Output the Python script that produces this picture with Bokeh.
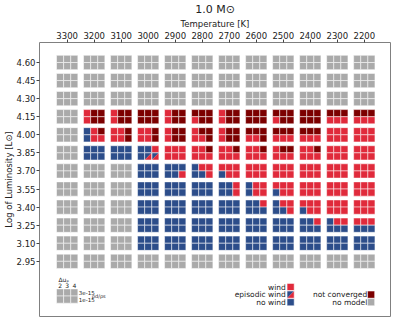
from bokeh.plotting import figure
from bokeh.models import Range1d, FixedTicker, PrintfTickFormatter
from bokeh.embed import file_html
from bokeh.resources import INLINE
from bokeh.core.properties import value

# ---------------- data ----------------
temperatures = [3300, 3200, 3100, 3000, 2900, 2800, 2700, 2600, 2500, 2400, 2300, 2200]
luminosities = [4.60, 4.45, 4.30, 4.15, 4.00, 3.85, 3.70, 3.55, 3.40, 3.25, 3.10, 2.95]
du_values = ["2", "3", "4"]
rho_labels = ["3e-15", "1e-15"]

# status per (T, L) cell: 6 letters = top row (rho 3e-15, du 2,3,4) then bottom row (rho 1e-15)
# W wind, E episodic wind, N no wind, C not converged, G no model
G6, N6, W6 = "GGGGGG", "NNNNNN", "WWWWWW"
status_460 = [G6] * 12
status_445 = [G6] * 12
status_430 = [G6] * 12
status_415 = [G6, "WCCWCC", "WCCWCC", "CCCCCC", "WCCWCC", "CCCWCC", "WCCWCC", "CCCCCC", "CCCWCC", "CCCCCC", "CCCWWW", "CCCWWW"]
status_400 = [G6, "NWCNWW", "WWCWWC", "WWCWWC", "WCCWCC", "WCCWWC", "WCCWCC", "CCCWWC", "CCCWWW", "CCCWWW", W6, W6]
status_385 = [G6, N6, N6, "NNWNEE", W6, "WWCWWW", "WWCWWW", "WWCWWW", "WCCWWW", "WWCWWW", W6, W6]
status_370 = [G6, G6, G6, N6, "NNNNNW", "NWWNNW", "WWWNWW", W6, W6, W6, W6, W6]
status_355 = [G6, G6, G6, N6, N6, N6, "NNWNNW", "NWWNWW", "WWWNWW", W6, W6, W6]
status_340 = [G6, G6, G6, N6, N6, N6, N6, "NNWNNN", "NWWNNW", "WWWNWW", W6, W6]
status_325 = [G6, G6, G6, N6, N6, N6, N6, N6, N6, "NNWNNN", "NWWNNN", "WWWNNN"]
status_310 = [G6, G6, G6] + [N6] * 9
status_295 = [G6] * 12
status_rows = [status_460, status_445, status_430, status_415, status_400, status_385,
               status_370, status_355, status_340, status_325, status_310, status_295]

legend_left = ["wind", "episodic wind", "no wind"]
legend_left_codes = ["W", "E", "N"]
legend_right = ["not converged", "no model"]
legend_right_codes = ["C", "G"]
title_text = "1.0 M\u2299"

# ---------------- style ----------------
COL = {"W": "#e02a3b", "N": "#2c4d8a", "C": "#7c0000", "G": "#aaaaaa"}
FONT = "DejaVu Sans"

X0, X1 = 3402.5, 2103.0
Y0, Y1 = 2.492, 4.766
DX = 26.3     # sub-square width (K)
DY = 0.0592   # sub-square height (dex)


def fx(px):
    return X0 + (px - 38) * (X1 - X0) / 362.0


def fy(py):
    return Y1 - (py - 39) * (Y1 - Y0) / 288.0


p = figure(width=391, height=317, x_range=Range1d(X0, X1), y_range=Range1d(Y0, Y1),
           output_backend="svg", toolbar_location=None, x_axis_location="above",
           min_border_left=0, min_border_right=1, min_border_top=0, min_border_bottom=1)
p.background_fill_color = "white"
p.border_fill_color = "white"
p.outline_line_color = "#808080"
p.outline_line_width = 1
p.xgrid.visible = False
p.ygrid.visible = False

p.title.text = title_text
p.title.align = "center"
p.title.text_font = FONT
p.title.text_font_size = "11px"
p.title.text_font_style = "normal"
p.title.text_color = "#222222"
p.title.standoff = 0
p.title.offset = 0
p.title.text_line_height = 1.0

for ax in (p.xaxis[0], p.yaxis[0]):
    ax.axis_line_color = None
    ax.major_tick_line_color = "#444444"
    ax.major_tick_out = 3
    ax.major_tick_in = 0
    ax.minor_tick_line_color = None
    ax.major_label_text_font = FONT
    ax.major_label_text_font_size = "8.5px"
    ax.major_label_text_color = "#222222"
    ax.axis_label_text_font = FONT
    ax.axis_label_text_font_size = "8.5px"
    ax.axis_label_text_font_style = "normal"
    ax.axis_label_text_color = "#222222"
    ax.major_label_standoff = 1
    ax.axis_label_standoff = 0

p.xaxis[0].ticker = FixedTicker(ticks=temperatures)
p.xaxis[0].axis_label = "Temperature [K]"
p.yaxis[0].ticker = FixedTicker(ticks=luminosities)
p.yaxis[0].formatter = PrintfTickFormatter(format="%.2f")
p.yaxis[0].axis_label = "Log of Luminosity [L\u2299]"

# ---------------- grid of sub-squares ----------------
rx, ry, rc = [], [], []
ex_blue, ey_blue, ex_red, ey_red, ex_c, ey_c = [], [], [], [], [], []


def add_episodic(x, y):
    left, right = x + DX / 2, x - DX / 2
    top, bot = y + DY / 2, y - DY / 2
    ex_blue.append([left, right, left])
    ey_blue.append([top, top, bot])
    ex_red.append([right, right, left])
    ey_red.append([top, bot, bot])
    ex_c.append(x)
    ey_c.append(y)


def add_square(x, y, c):
    if c == "E":
        add_episodic(x, y)
    else:
        rx.append(x)
        ry.append(y)
        rc.append(COL[c])


def add_cell(T, L, codes):
    for r in range(2):
        for k in range(3):
            add_square(T + (1 - k) * DX, L + (0.5 - r) * DY, codes[r * 3 + k])


for L, row in zip(luminosities, status_rows):
    for T, codes in zip(temperatures, row):
        add_cell(T, L, codes)

# key cell (layout)
key_T = temperatures[0]
key_L = fy(305.5)
add_cell(key_T, key_L, "GGGGGG")

# legend squares
for i, c in enumerate(legend_left_codes):
    add_square(fx(297), fy(296 + 8 * i), c)
for i, c in enumerate(legend_right_codes):
    add_square(fx(380), fy(304 + 8 * i), c)

p.rect(rx, ry, width=DX, height=DY, fill_color=rc, line_color="white", line_alpha=0.5, line_width=1)
p.patches(ex_blue, ey_blue, fill_color=COL["N"], line_color=None)
p.patches(ex_red, ey_red, fill_color=COL["W"], line_color=None)
p.rect(ex_c, ey_c, width=DX, height=DY, fill_color=None, line_color="white", line_alpha=0.5, line_width=1)

# legend texts
p.text([fx(292)] * 3, [fy(296 + 8 * i) for i in range(3)], text=legend_left,
       text_align="right", text_baseline="middle", text_font=value(FONT),
       text_font_size="7.5px", text_color="#222222")
p.text([fx(376)] * 2, [fy(304 + 8 * i) for i in range(2)], text=legend_right,
       text_align="right", text_baseline="middle", text_font=value(FONT),
       text_font_size="7.5px", text_color="#222222")

# key labels
p.text([key_T + (1 - k) * DX for k in range(3)], [fy(294.5)] * 3, text=du_values,
       text_align="center", text_baseline="middle", text_font=value(FONT),
       text_font_size="6px", text_color="#222222")
p.text([fx(63)], [fy(288.5)], text=["\u0394u\u209a"],
       text_align="center", text_baseline="middle", text_font=value(FONT),
       text_font_size="6px", text_color="#222222")
p.text([fx(78.5)] * 2, [key_L + DY / 2, key_L - DY / 2], text=rho_labels,
       text_align="left", text_baseline="middle", text_font=value(FONT),
       text_font_size="5.5px", text_color="#222222")
p.text([fx(92)], [fy(305.5)], text=["\u03c1d/\u03c1s"],
       text_align="left", text_baseline="middle", text_font=value(FONT),
       text_font_size="5px", text_color="#222222")

open("out.html", "w").write(file_html(p, INLINE))
